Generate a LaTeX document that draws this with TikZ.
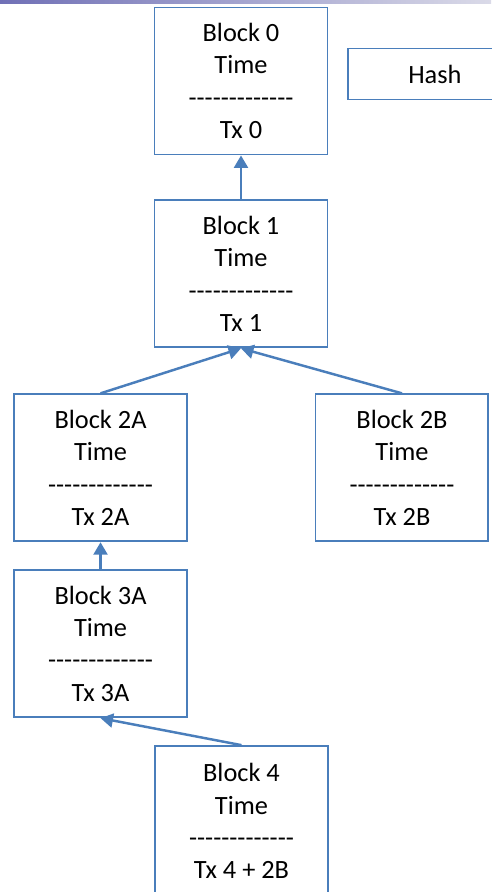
\documentclass[tikz,border=0pt]{standalone}
\usepackage{fontspec}
\setmainfont{Carlito}[Ligatures=TeXOff]
\usetikzlibrary{positioning,arrows.meta}
\definecolor{blockblue}{RGB}{74,126,187}
\definecolor{barleft}{RGB}{112,112,182}
\definecolor{barright}{RGB}{218,218,232}
\begin{document}
\begin{tikzpicture}[x=0.02cm, y=-0.02cm,
    block/.style={rectangle, draw=blockblue, line width=1.1pt, fill=white, align=center,
      inner sep=0pt, minimum width=3.46cm, minimum height=2.94cm},
    hashbox/.style={block, minimum height=1.02cm},
    link/.style={draw=blockblue, line width=1.4pt, -{Triangle[length=0.25cm,width=0.28cm]}}]
        \tikzstyle{every node}=[font=\fontsize{15}{18.4}\selectfont]

          \useasboundingbox (0,0) rectangle (491,892);
          \shade[left color=barleft, right color=barright] (0,0) rectangle (491,4);

          \node[block] (b0) at (241,81) {Block 0\\Time\\-------------\\Tx 0};
          \node[hashbox] (hash) [right=0.38cm of b0, yshift=0.14cm] {Hash};
          \node[block] (b1) [below=0.88cm of b0] {Block 1\\Time\\-------------\\Tx 1};
          \node[block] (b2a) [below=0.9cm of b1, xshift=-2.81cm] {Block 2A\\Time\\-------------\\Tx 2A};
          \node[block] (b2b) [below=0.9cm of b1, xshift=3.22cm] {Block 2B\\Time\\-------------\\Tx 2B};
          \node[block] (b3a) [below=0.54cm of b2a] {Block 3A\\Time\\-------------\\Tx 3A};
          \node[block] (b4) [below=0.54cm of b3a, xshift=2.82cm, minimum height=3cm] {Block 4\\Time\\-------------\\Tx 4 + 2B};

          \path[every edge/.style={link}]
            (b1.north) edge (b0.south)
            (b2a.north) edge (b1.south)
            (b2b.north) edge (b1.south)
            (b3a.north) edge (b2a.south)
            (b4.north) edge (b3a.south);

        \end{tikzpicture}
\end{document}
